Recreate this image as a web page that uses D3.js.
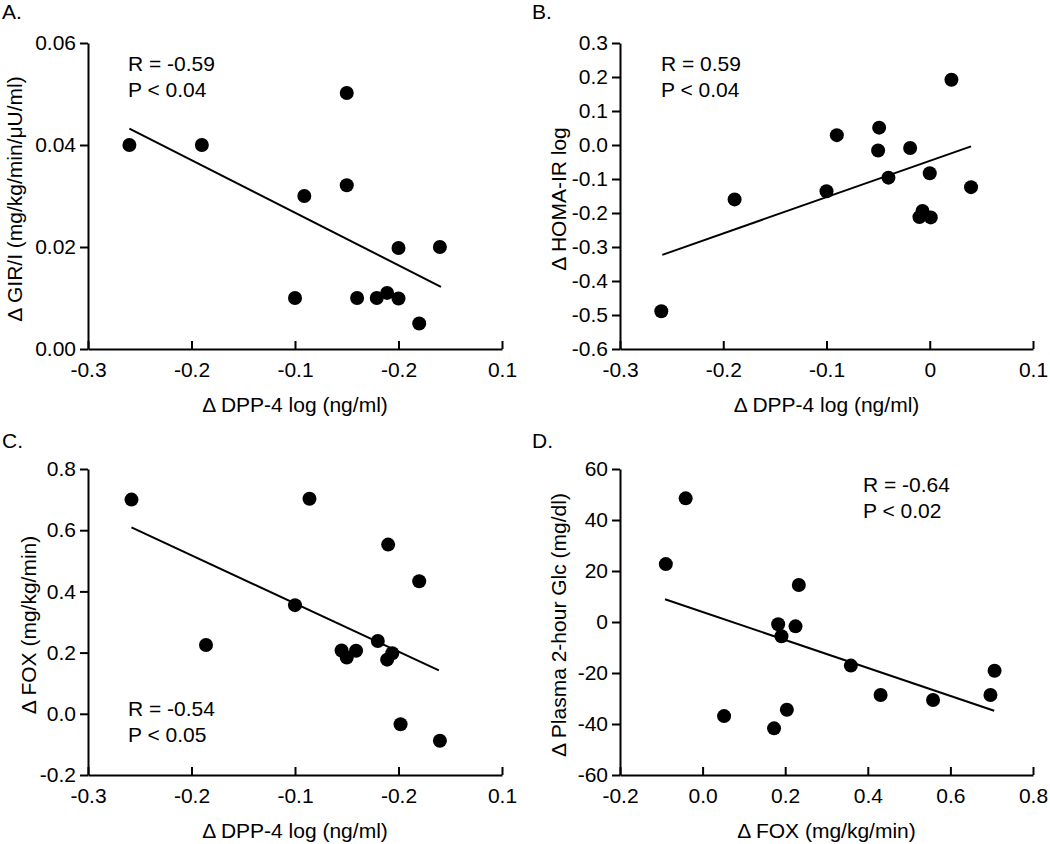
<!DOCTYPE html>
<html>
<head>
<meta charset="utf-8">
<script src="https://cdn.jsdelivr.net/npm/d3@7"></script>
<style>
  body { margin: 0; background: #fff; }
  svg { display: block; font-family: "Liberation Sans", Arial, sans-serif; }
</style>
</head>
<body>
<div id="chart"></div>
<script>
// Tick values and labels (the A/C x-axis really reads "-0.2" where 0 should be)
const dppTicks = [-0.3, -0.2, -0.1, 0, 0.1];
const dppLabelsAC = ["-0.3", "-0.2", "-0.1", "-0.2", "0.1"];
const dppLabelsB = ["-0.3", "-0.2", "-0.1", "0", "0.1"];
const girTicks = [0, 0.02, 0.04, 0.06];
const girLabels = ["0.00", "0.02", "0.04", "0.06"];
const homaTicks = [0.3, 0.2, 0.1, 0, -0.1, -0.2, -0.3, -0.4, -0.5, -0.6];
const homaLabels = ["0.3", "0.2", "0.1", "0.0", "-0.1", "-0.2", "-0.3", "-0.4", "-0.5", "-0.6"];
const foxTicks = [-0.2, 0, 0.2, 0.4, 0.6, 0.8];
const foxLabels = ["-0.2", "0.0", "0.2", "0.4", "0.6", "0.8"];
const glcTicks = [-60, -40, -20, 0, 20, 40, 60];
const glcLabels = ["-60", "-40", "-20", "0", "20", "40", "60"];

// Panel A: delta DPP-4 vs delta GIR/I
const aX = [-0.26, -0.19, -0.05, -0.05, -0.091, -0.10, -0.04, -0.021, -0.011, 0.0, 0.0, 0.04, 0.02];
const aY = [0.040, 0.040, 0.0502, 0.0321, 0.030, 0.010, 0.010, 0.010, 0.011, 0.0099, 0.0198, 0.020, 0.005];
const aFitX = [-0.26, 0.041];
const aFitY = [0.0432, 0.0122];

// Panel B: delta DPP-4 vs delta HOMA-IR
const bX = [-0.26, -0.189, -0.10, -0.090, -0.049, -0.05, -0.04, -0.019, 0.0, -0.007, -0.010, 0.001, 0.021, 0.04];
const bY = [-0.489, -0.160, -0.136, 0.029, 0.051, -0.016, -0.096, -0.009, -0.083, -0.194, -0.212, -0.213, 0.192, -0.124];
const bFitX = [-0.259, 0.040];
const bFitY = [-0.323, -0.004];

// Panel C: delta DPP-4 vs delta FOX
const cX = [-0.258, -0.086, -0.010, 0.020, -0.100, -0.186, -0.020, -0.055, -0.050, -0.041, -0.011, -0.006, 0.002, 0.040];
const cY = [0.700, 0.703, 0.553, 0.433, 0.355, 0.225, 0.238, 0.207, 0.184, 0.206, 0.177, 0.198, -0.034, -0.088];
const cFitX = [-0.258, 0.039];
const cFitY = [0.609, 0.142];

// Panel D: delta FOX vs delta plasma 2-hour glucose
const dX = [-0.041, -0.089, 0.233, 0.183, 0.225, 0.191, 0.359, 0.707, 0.431, 0.558, 0.697, 0.204, 0.052, 0.173];
const dY = [48.5, 22.7, 14.5, -0.9, -1.7, -5.6, -17.1, -19.1, -28.6, -30.6, -28.6, -34.4, -36.9, -41.7];
const dFitX = [-0.091, 0.706];
const dFitY = [8.9, -34.8];

const width = 1050;
const height = 844;
const fontSize = 21;

const svg = d3.select("#chart")
  .append("svg")
  .attr("width", width)
  .attr("height", height);

function drawPanel(p) {
  const x = d3.scaleLinear().domain(p.xDomain).range([p.left, p.right]);
  const y = d3.scaleLinear().domain(p.yDomain).range([p.bottom, p.top]);

  const g = svg.append("g");

  // panel letter
  g.append("text")
    .attr("x", p.letterX)
    .attr("y", p.letterY)
    .attr("font-size", fontSize)
    .text(p.letter);

  // y axis, ticks pointing out
  const yAxis = g.append("g")
    .attr("transform", `translate(${p.left},0)`)
    .call(d3.axisLeft(y)
      .tickValues(p.yTicks)
      .tickFormat((d, i) => p.yLabels[i])
      .tickSize(8)
      .tickSizeOuter(0)
      .tickPadding(4));

  // x axis, ticks pointing in
  const xAxis = g.append("g")
    .attr("transform", `translate(0,${p.bottom})`)
    .call(d3.axisBottom(x)
      .tickValues(p.xTicks)
      .tickFormat((d, i) => p.xLabels[i])
      .tickSize(-8)
      .tickSizeOuter(0)
      .tickPadding(13));

  [yAxis, xAxis].forEach(ax => {
    ax.attr("font-size", fontSize).attr("font-family", null);
    ax.selectAll("path, line").attr("stroke", "#000").attr("stroke-width", 2);
    ax.selectAll("text").attr("fill", "#000");
  });

  // axis titles
  g.append("text")
    .attr("x", (p.left + p.right) / 2)
    .attr("y", p.bottom + 56)
    .attr("dy", "0.35em")
    .attr("text-anchor", "middle")
    .attr("font-size", fontSize)
    .text(p.xTitle);

  g.append("text")
    .attr("transform", `translate(${p.yTitleX},${(p.top + p.bottom) / 2 + 3}) rotate(-90)`)
    .attr("dy", "0.35em")
    .attr("text-anchor", "middle")
    .attr("font-size", fontSize)
    .text(p.yTitle);

  // regression line
  const fit = p.fitX.map((v, i) => [v, p.fitY[i]]);
  g.append("path")
    .datum(fit)
    .attr("fill", "none")
    .attr("stroke", "#000")
    .attr("stroke-width", 2)
    .attr("d", d3.line().x(d => x(d[0])).y(d => y(d[1])));

  // points
  g.selectAll("circle")
    .data(p.xs.map((v, i) => [v, p.ys[i]]))
    .join("circle")
    .attr("cx", d => x(d[0]))
    .attr("cy", d => y(d[1]))
    .attr("r", 7)
    .attr("fill", "#000");

  // stats text
  p.stats.forEach((s, i) => {
    g.append("text")
      .attr("x", p.statsX)
      .attr("y", p.statsY + i * 26)
      .attr("font-size", fontSize)
      .text(s);
  });
}

drawPanel({
  letter: "A.", letterX: 2, letterY: 19,
  left: 88, right: 502, top: 43, bottom: 349,
  xDomain: [-0.3, 0.1], yDomain: [0, 0.06],
  xTicks: dppTicks, xLabels: dppLabelsAC,
  yTicks: girTicks, yLabels: girLabels,
  xs: aX, ys: aY, fitX: aFitX, fitY: aFitY,
  xTitle: "Δ DPP-4 log (ng/ml)", yTitle: "Δ GIR/I (mg/kg/min/μU/ml)", yTitleX: 15,
  stats: ["R = -0.59", "P < 0.04"], statsX: 128, statsY: 71
});

drawPanel({
  letter: "B.", letterX: 532, letterY: 19,
  left: 620, right: 1033, top: 43, bottom: 349,
  xDomain: [-0.3, 0.1], yDomain: [-0.6, 0.3],
  xTicks: dppTicks, xLabels: dppLabelsB,
  yTicks: homaTicks, yLabels: homaLabels,
  xs: bX, ys: bY, fitX: bFitX, fitY: bFitY,
  xTitle: "Δ DPP-4 log (ng/ml)", yTitle: "Δ HOMA-IR log", yTitleX: 559,
  stats: ["R = 0.59", "P < 0.04"], statsX: 661, statsY: 71
});

drawPanel({
  letter: "C.", letterX: 2, letterY: 448,
  left: 88, right: 502, top: 469, bottom: 775,
  xDomain: [-0.3, 0.1], yDomain: [-0.2, 0.8],
  xTicks: dppTicks, xLabels: dppLabelsAC,
  yTicks: foxTicks, yLabels: foxLabels,
  xs: cX, ys: cY, fitX: cFitX, fitY: cFitY,
  xTitle: "Δ DPP-4 log (ng/ml)", yTitle: "Δ FOX (mg/kg/min)", yTitleX: 29,
  stats: ["R = -0.54", "P < 0.05"], statsX: 128, statsY: 716
});

drawPanel({
  letter: "D.", letterX: 532, letterY: 448,
  left: 620, right: 1033, top: 469, bottom: 775,
  xDomain: [-0.2, 0.8], yDomain: [-60, 60],
  xTicks: foxTicks, xLabels: foxLabels,
  yTicks: glcTicks, yLabels: glcLabels,
  xs: dX, ys: dY, fitX: dFitX, fitY: dFitY,
  xTitle: "Δ FOX (mg/kg/min)", yTitle: "Δ Plasma 2-hour Glc (mg/dl)", yTitleX: 559,
  stats: ["R = -0.64", "P < 0.02"], statsX: 863, statsY: 492
});
</script>
</body>
</html>
